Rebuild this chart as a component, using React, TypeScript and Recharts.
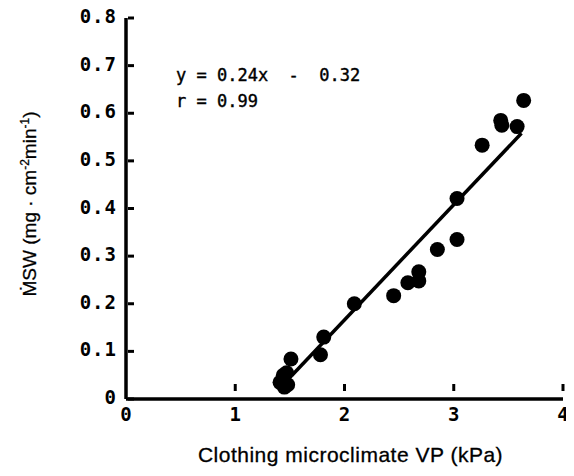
import { ScatterChart, Scatter, XAxis, YAxis, Label } from 'recharts';

const vpX = [1.41, 1.44, 1.45, 1.48, 1.47, 1.51, 1.78, 1.81, 2.09, 2.45, 2.58, 2.68, 2.68, 2.85, 3.03, 3.03, 3.26, 3.43, 3.44, 3.58, 3.64];
const mswY = [0.035, 0.05, 0.025, 0.03, 0.055, 0.084, 0.093, 0.13, 0.2, 0.217, 0.244, 0.267, 0.248, 0.314, 0.335, 0.421, 0.533, 0.585, 0.575, 0.572, 0.627];

const fitX = [1.52, 3.62];
const fitY = [0.05, 0.558];

const xTicks = [0, 1, 2, 3, 4];
const yTicks = [0, 0.1, 0.2, 0.3, 0.4, 0.5, 0.6, 0.7, 0.8];

const points = vpX.map((x, i) => ({ x, y: mswY[i] }));
const fitLine = fitX.map((x, i) => ({ x, y: fitY[i] }));

const mono = '"DejaVu Sans Mono", monospace';
const sans = '"Liberation Sans", Arial, sans-serif';

// offsets between the point recharts gives custom ticks and the axis line
const Y_TICK_GAP = 2;
const X_TICK_GAP = 8;

const YTick = (props: any) => {
  const { x, y, payload } = props;
  const ax = x + Y_TICK_GAP;
  const label = payload.value === 0 ? '0' : payload.value.toFixed(1);
  return (
    <g>
      <line x1={ax} x2={ax + 6} y1={y} y2={y} stroke="#000" strokeWidth={3} />
      <text x={x - 9} y={y + 5} textAnchor="end" fontFamily={mono} fontSize={19} fontWeight="bold" letterSpacing={1} fill="#000">
        {label}
      </text>
    </g>
  );
};

const XTick = (props: any) => {
  const { x, y, payload } = props;
  const ay = y - X_TICK_GAP;
  return (
    <g>
      {payload.value !== 0 && <line x1={x} x2={x} y1={ay} y2={ay - 7} stroke="#000" strokeWidth={3} />}
      <text x={x} y={y + 22} textAnchor="middle" fontFamily={mono} fontSize={19} fontWeight="bold" fill="#000">
        {payload.value}
      </text>
    </g>
  );
};

const YTitle = () => (
  <text
    x={36}
    y={204}
    transform="rotate(-90 36 204)"
    textAnchor="middle"
    fontFamily={sans}
    fontSize={19}
    fill="#000"
    stroke="#000"
    strokeWidth={0.3}
  >
    ṀSW (mg · cm<tspan dy={-7} fontSize={12}>-2</tspan>
    <tspan dy={7}>min</tspan>
    <tspan dy={-7} fontSize={12}>-1</tspan>
    <tspan dy={7}>)</tspan>
  </text>
);

const Dot = (props: any) => {
  const { cx, cy } = props;
  return <circle cx={cx} cy={cy} r={7.5} fill="#000" />;
};

const App = () => {
  return (
    <div style={{ position: 'relative', width: 574, height: 476, margin: -8, background: '#fff' }}>
      <ScatterChart width={574} height={476} margin={{ top: 18, right: 11, left: 0, bottom: 0 }}>
        <XAxis
          type="number"
          dataKey="x"
          domain={[0, 4]}
          ticks={xTicks}
          height={77}
          tickSize={0}
          tickMargin={0}
          tickLine={false}
          axisLine={{ stroke: '#000', strokeWidth: 3.5 }}
          tick={<XTick />}
        >
          <Label
            value="Clothing microclimate VP (kPa)"
            position="insideBottom"
            offset={14}
            dx={6}
            style={{ fontFamily: sans, fontSize: 21, letterSpacing: 0.5, fill: '#000', stroke: '#000', strokeWidth: 0.3 }}
          />
        </XAxis>
        <YAxis
          type="number"
          dataKey="y"
          domain={[0, 0.8]}
          ticks={yTicks}
          width={126}
          tickSize={0}
          tickMargin={0}
          tickLine={false}
          axisLine={{ stroke: '#000', strokeWidth: 3.5 }}
          tick={<YTick />}
        >
          <Label content={<YTitle />} />
        </YAxis>
        <Scatter data={points} fill="#000" shape={<Dot />} isAnimationActive={false} />
        <Scatter
          data={fitLine}
          line={{ stroke: '#000', strokeWidth: 3.5 }}
          shape={() => <g />}
          isAnimationActive={false}
        />
      </ScatterChart>
      <div
        style={{
          position: 'absolute',
          left: 176,
          top: 62,
          fontFamily: mono,
          fontSize: 17,
          lineHeight: '26px',
          whiteSpace: 'pre',
          color: '#000',
          WebkitTextStroke: '0.4px #000',
        }}
      >
        <div>{'y = 0.24x  -  0.32'}</div>
        <div>{'r = 0.99'}</div>
      </div>
    </div>
  );
};

export default App;
